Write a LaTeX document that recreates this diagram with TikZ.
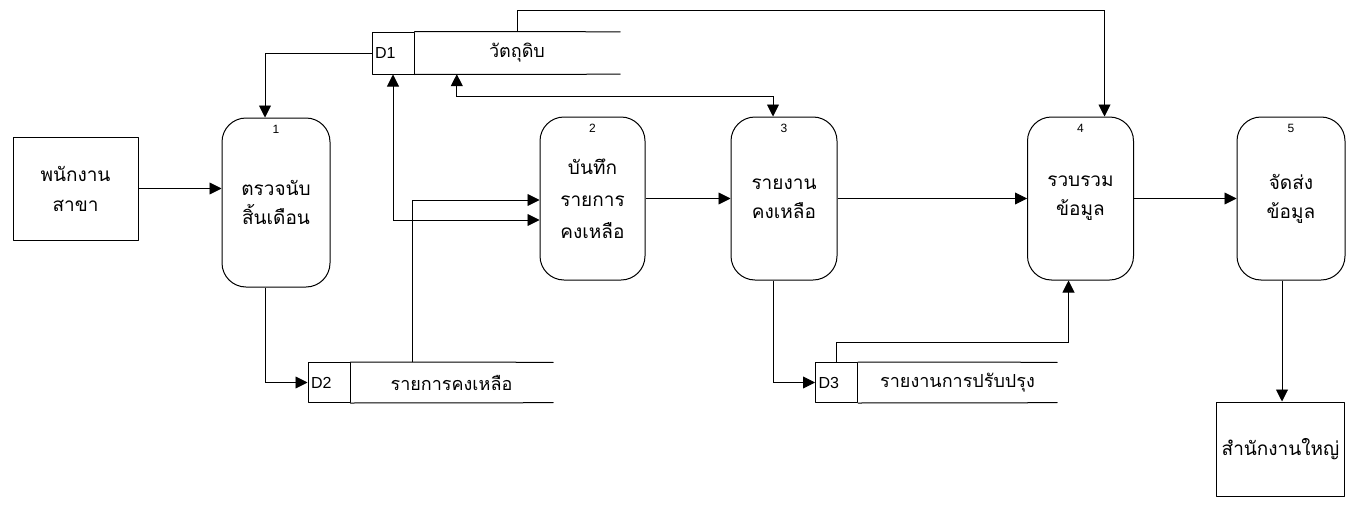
\documentclass[tikz,border=0pt]{standalone}
\usepackage{fontspec}
\setmainfont{Liberation Sans}
\newfontfamily\thaifont[Script=Thai]{Loma}
\usetikzlibrary{arrows.meta,calc}
\tikzset{
  base/.style={line width=1pt, line cap=round, line join=round},
  proc/.style={base, draw, rounded corners=24pt, inner sep=0pt, align=center,
    font=\thaifont\fontsize{19}{29}\selectfont},
  ent/.style={base, draw, inner sep=0pt, align=center,
    font=\thaifont\fontsize{19}{30}\selectfont},
  dcell/.style={base, draw, inner sep=3pt, text width=36pt, align=left,
    font=\fontsize{16}{17}\selectfont},
  dname/.style={inner sep=0pt, font=\thaifont\fontsize{18}{20}\selectfont},
  pnum/.style={inner sep=0pt, font=\fontsize{12}{13}\selectfont},
  flow/.style={line width=0.9pt, -{Triangle[length=12pt,width=12pt]}},
  both/.style={line width=0.9pt, {Triangle[length=12pt,width=12pt]}-{Triangle[length=12pt,width=12pt]}},
  sline/.style={base}
}
\begin{document}
\begin{tikzpicture}[x=1pt,y=-1pt]
\useasboundingbox (0,0) rectangle (1354,506);
% external entities
\node[ent, minimum width=125pt, minimum height=103pt] (emp) at (75.5,188.5) {พนักงาน\\สาขา};
\node[ent, minimum width=128pt, minimum height=94pt] (hq) at (1280.5,449) {สำนักงานใหญ่};
% processes
\node[proc, minimum width=108pt, minimum height=169pt] (p1) at (276,202.5) {ตรวจนับ\\สิ้นเดือน};
\node[proc, minimum width=105pt, minimum height=163pt, font=\thaifont\fontsize{19}{32}\selectfont] (p2) at (592.5,198.5) {บันทึก\\รายการ\\คงเหลือ};
\node[proc, minimum width=106pt, minimum height=163pt] (p3) at (784,198.5) {รายงาน\\คงเหลือ};
\node[proc, minimum width=106pt, minimum height=163pt] (p4) at (1080.5,198.5) {รวบรวม\\ข้อมูล};
\node[proc, minimum width=108pt, minimum height=163pt] (p5) at (1291,198.5) {จัดส่ง\\ข้อมูล};
\node[pnum] (n1) at ($(p1.north)+(0,12)$) {1};
\node[pnum] (n2) at ($(p2.north)+(0,12)$) {2};
\node[pnum] (n3) at ($(p3.north)+(0,12)$) {3};
\node[pnum] (n4) at ($(p4.north)+(0,12)$) {4};
\node[pnum] (n5) at ($(p5.north)+(0,12)$) {5};
% data stores
\node[dcell, minimum height=42pt] (d1) at (393,53) {D1};
\node[dname, minimum width=206pt, minimum height=42pt] (d1n) at (517,53) {วัตถุดิบ};
\draw[sline] (d1.north east) -- (d1n.north east);
\draw[sline] (d1.south east) -- (d1n.south east);
\node[dcell, minimum height=40pt] (d2) at (329,382.5) {D2};
\node[dname, minimum width=203pt, minimum height=40pt] (d2n) at (451.5,382.5) {รายการคงเหลือ};
\draw[sline] (d2.north east) -- (d2n.north east);
\draw[sline] (d2.south east) -- (d2n.south east);
\node[dcell, minimum height=40pt] (d3) at (836.5,382.5) {D3};
\node[dname, minimum width=199pt, minimum height=40pt] (d3n) at (957.5,382.5) {รายงานการปรับปรุง};
\draw[sline] (d3.north east) -- (d3n.north east);
\draw[sline] (d3.south east) -- (d3n.south east);
% helper coordinates
\coordinate (p5out) at ($(p5.south)+(-9,0)$);
\coordinate (hqin) at (p5out |- hq.north);
% flows
\draw[flow] (emp.east) -- (emp.east -| p1.west);
\draw[flow] (d1.west) -| ($(p1.north)+(-11,0)$);
\draw[flow] ($(p1.south)+(-11,0)$) |- (d2.west);
\draw[both] (d1.south) |- ($(p2.west)+(0,21.5)$);
\draw[flow] ($(d2n.north west)+(63,0)$) |- ($(p2.west)+(0,1.5)$);
\draw[flow] (p2.east) -- (p2.east -| p3.west);
\draw[both] ($(p3.north)+(-11,0)$) |- ($(d1n.south west)+(43,22)$) -- ($(d1n.south west)+(43,0)$);
\draw[flow] (d1n.north) -- ++(0,-21) -| ($(p4.north)+(24,0)$);
\draw[flow] (p3.east) -- (p3.east -| p4.west);
\draw[flow] (p4.east) -- (p4.east -| p5.west);
\draw[flow] ($(p3.south)+(-11,0)$) |- (d3.west);
\draw[flow] (d3.north) -- ++(0,-20) -| ($(p4.south)+(-12,0)$);
\draw[flow] (p5out) -- (hqin);
\end{tikzpicture}
\end{document}
